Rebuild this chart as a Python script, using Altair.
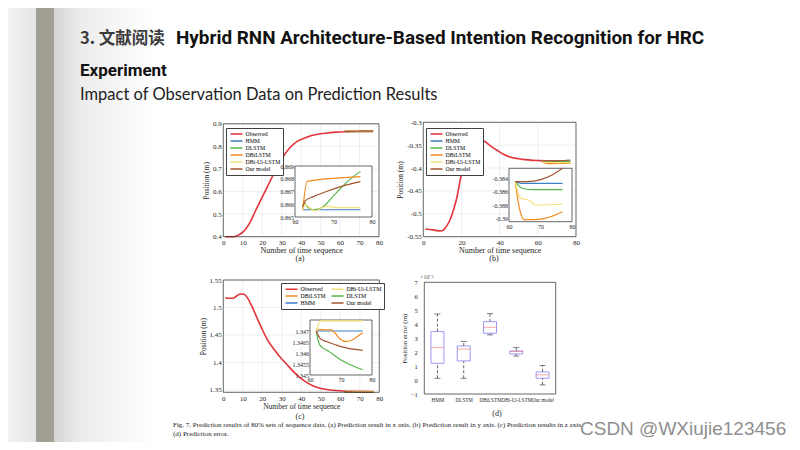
import json
import altair as alt
import pandas as pd

# ---------------- data ----------------
SERIES = ["Observed", "HMM", "DLSTM", "DBiLSTM", "DBi-Ui-LSTM", "Our model"]
COLORS = ["#e2343b", "#3a80c6", "#55b548", "#f28b1e", "#f5df7a", "#a5532f"]
C_ORDER = ["Observed", "DBiLSTM", "HMM", "DBi-Ui-LSTM", "DLSTM", "Our model"]

# (a) x axis
A_OBS_X = [1, 4, 6, 8, 10, 12, 14, 16, 18, 20, 22, 24, 26, 28, 30, 32, 34, 36, 38, 40, 43, 46, 50, 54, 58, 62, 66, 70, 74, 77]
A_OBS_Y = [0.400, 0.400, 0.401, 0.408, 0.420, 0.440, 0.468, 0.505, 0.540, 0.575, 0.610, 0.645, 0.680, 0.713, 0.743,
           0.770, 0.792, 0.809, 0.822, 0.831, 0.841, 0.849, 0.856, 0.860, 0.863, 0.8650, 0.8656, 0.8660, 0.8663, 0.8665]
A_PRED = {
    "HMM": ([62, 77], [0.86557, 0.86557]),
    "DLSTM": ([62, 62.5, 63.2, 64.8, 67, 70.2, 73.4, 77], [0.8656, 0.8661, 0.8658, 0.86557, 0.86574, 0.86673, 0.86772, 0.86858]),
    "DBiLSTM": ([62, 63.2, 77], [0.86557, 0.86779, 0.86816]),
    "DBi-Ui-LSTM": ([62, 62.7, 63.7, 65.3, 67, 68.6, 70.7, 77], [0.86557, 0.86599, 0.86574, 0.86549, 0.86574, 0.86584, 0.86574, 0.86574]),
    "Our model": ([62, 62.7, 64.8, 68, 72.3, 77], [0.8658, 0.86628, 0.8666, 0.86698, 0.86742, 0.86777]),
}

# (b) y axis
B_OBS_X = [1, 5, 9, 10.5, 12, 14, 16, 17.5, 19, 21, 22.7, 24.5, 27, 29.7, 32.3, 35, 38.4, 42, 45.4, 52, 61, 70, 77]
B_OBS_Y = [-0.5332, -0.5350, -0.5376, -0.5354, -0.5280, -0.5136, -0.4890, -0.4660, -0.4340, -0.3897, -0.3570, -0.3420,
           -0.3370, -0.3370, -0.3420, -0.3510, -0.3605, -0.3700, -0.3758, -0.3810, -0.3838, -0.3850, -0.3858]
B_PRED = {
    "HMM": ([62, 64, 77], [-0.3845, -0.38475, -0.38475]),
    "DLSTM": ([62, 63.5, 65.1, 67.5, 77], [-0.3845, -0.3853, -0.3856, -0.3857, -0.3857]),
    "DBiLSTM": ([62, 63.1, 63.9, 64.8, 68.1, 71.4, 77], [-0.3845, -0.3880, -0.3895, -0.3902, -0.3902, -0.3900, -0.3890]),
    "DBi-Ui-LSTM": ([62, 63.1, 63.7, 65.3, 67, 68.1, 69.8, 77], [-0.3845, -0.3865, -0.3870, -0.38715, -0.3875, -0.3880, -0.3880, -0.38785]),
    "Our model": ([62, 65.9, 70.3, 73.7, 77], [-0.3845, -0.3845, -0.38415, -0.3835, -0.38235]),
}

# (c) z axis
C_OBS_X = [1, 3, 5, 7, 9, 10.6, 12.3, 14.5, 17, 19.7, 22.2, 25.6, 29, 32.5, 36, 39.3, 42.7, 46.2, 49.6, 54.7, 61.5, 70, 77]
C_OBS_Y = [1.5179, 1.5167, 1.5167, 1.5215, 1.5245, 1.5240, 1.5180, 1.5033, 1.4833, 1.4621, 1.4440, 1.4258, 1.4106,
           1.3967, 1.3833, 1.3724, 1.3639, 1.3573, 1.3530, 1.3500, 1.3482, 1.3475, 1.3472]
C_PRED = {
    "HMM": ([62, 77], [1.3470, 1.3470]),
    "DLSTM": ([62, 62.7, 63.2, 66.4, 69.6, 72.8, 77], [1.3470, 1.34652, 1.34636, 1.34604, 1.34572, 1.34548, 1.34524]),
    "DBiLSTM": ([62, 63, 64.8, 66.9, 68, 69.6, 71.7, 73.8, 75.4, 77],
                [1.3470, 1.34708, 1.34705, 1.34705, 1.34692, 1.34665, 1.34652, 1.3466, 1.34676, 1.34692]),
    "DBi-Ui-LSTM": ([62, 63.4, 77], [1.3470, 1.34746, 1.34746]),
    "Our model": ([62, 63.2, 65.3, 68.5, 71.7, 77], [1.3470, 1.34668, 1.34652, 1.34636, 1.34623, 1.34612]),
}

# (d) prediction error (x 10^-3)
MODELS = ["HMM", "DLSTM", "DBiLSTM", "DBi-Ui-LSTM", "Our model"]
D_LOW = [0.13, 0.13, 3.23, 1.72, -0.35]
D_Q1 = [1.20, 1.37, 3.35, 1.87, 0.13]
D_MED = [2.32, 2.22, 3.78, 2.03, 0.37]
D_Q3 = [3.47, 2.44, 4.18, 2.08, 0.58]
D_HIGH = [4.73, 2.75, 4.75, 2.32, 1.03]

TITLE_CN = "3. 文献阅读"
TITLE_EN = "Hybrid RNN Architecture-Based Intention Recognition for HRC"
HEAD2 = "Experiment"
HEAD3 = "Impact of Observation Data on Prediction Results"
CAP1 = "Fig. 7.    Prediction results of 80% sets of sequence data. (a) Prediction result in x axis. (b) Prediction result in y axis. (c) Prediction results in z axis."
CAP2 = "(d) Prediction error."
WATERMARK = "CSDN @WXiujie123456"

# ---------------- layout / style ----------------
W, H = 784, 434
SERIF = "Liberation Serif, Times New Roman, serif"
HEADFONT = "Roboto, Arial, sans-serif"
CJK = "Noto Sans CJK SC, sans-serif"
INK = "#262626"
GRID = "#e4e4e4"
HYPHEN = "replace(datum.label, '\u2212', '-')"
LEG_SYMBOL = "M-0.6,0L4.2,0"


def make_axis(orient, pos, values, fmt, fs, title=None, tsize=8, tpad=1, z=0, lpad=2, label_expr=None):
    kw = dict(orient=orient, values=values, grid=False, domain=False, ticks=False,
              labelFont=SERIF, labelFontSize=fs, labelColor=INK, labelPadding=lpad,
              labelFlush=False, labelOverlap=False, zindex=z,
              titleFont=SERIF, titleFontSize=tsize, titleFontWeight="normal",
              titleColor=INK, titlePadding=tpad, title=title)
    kw["offset"] = (pos - H) if orient == "bottom" else -pos
    if fmt:
        kw["format"] = fmt
    if label_expr:
        kw["labelExpr"] = label_expr
    return alt.Axis(**kw)


def pred_df(preds):
    rows = []
    for name, (xs, ys) in preds.items():
        for a, b in zip(xs, ys):
            rows.append({"x": a, "y": b, "series": name})
    return pd.DataFrame(rows)


def legend(x, y, cols=1):
    kw = dict(orient="none", legendX=x, legendY=y, title=None, symbolType=LEG_SYMBOL, symbolSize=25,
              symbolStrokeWidth=1.5, labelFont=SERIF, labelFontSize=5.8, labelColor="black", labelOffset=10,
              rowPadding=0, padding=2.5, strokeColor="#404040", fillColor="white", columnPadding=2)
    if cols > 1:
        kw["columns"] = cols
    return alt.Legend(**kw)


def main_panel(ox, oy, preds, xdom, ydom, xr, yr, xt, yt, yfmt, leg, cdom, crange, xtsize=8):
    xs = alt.Scale(domain=xdom, range=xr, nice=False, zero=False, clamp=True)
    ys = alt.Scale(domain=ydom, range=yr, nice=False, zero=False, clamp=True)
    xa = make_axis("bottom", yr[0], xt, "d", 7, "Number of time sequence", xtsize, 1)
    ya = make_axis("left", xr[0], yt, yfmt, 7, "Position (m)", 7.5, 2, label_expr=HYPHEN)
    X = lambda f: alt.X(f, type="quantitative", scale=xs, axis=xa)
    Y = lambda f: alt.Y(f, type="quantitative", scale=ys, axis=ya)
    col = alt.Color("series:N", scale=alt.Scale(domain=cdom, range=crange), legend=leg)
    gx = alt.Chart(pd.DataFrame({"v": xt[1:-1], "lo": ydom[0], "hi": ydom[1]})).mark_rule(
        color=GRID, strokeWidth=0.6).encode(x=X("v"), y=Y("lo"), y2=alt.Y2("hi"))
    gy = alt.Chart(pd.DataFrame({"v": yt, "lo": xdom[0], "hi": xdom[1]})).mark_rule(
        color=GRID, strokeWidth=0.6).encode(y=Y("v"), x=X("lo"), x2=alt.X2("hi"))
    ob = alt.Chart(pd.DataFrame({"x": ox, "y": oy, "series": "Observed"})).mark_line(
        strokeWidth=1.6, interpolate="monotone").encode(x=X("x"), y=Y("y"), color=col)
    pr = alt.Chart(pred_df(preds)).mark_line(strokeWidth=1.2, interpolate="monotone").encode(
        x=X("x"), y=Y("y"), color=col)
    fr = alt.Chart(pd.DataFrame({"x0": [xdom[0]], "x1": [xdom[1]], "y0": [ydom[0]], "y1": [ydom[1]]})).mark_rect(
        fillOpacity=0, stroke=INK, strokeWidth=0.7).encode(x=X("x0"), x2=alt.X2("x1"), y=Y("y0"), y2=alt.Y2("y1"))
    return alt.layer(gx, gy, ob, pr, fr)


def inset_panel(preds, xdom, ydom, xr, yr, xt, yt, yfmt):
    xs = alt.Scale(domain=xdom, range=xr, nice=False, zero=False, clamp=True)
    ys = alt.Scale(domain=ydom, range=yr, nice=False, zero=False, clamp=True)
    xa = make_axis("bottom", yr[0], xt, "d", 6, None, z=1, lpad=1.5)
    ya = make_axis("left", xr[0], yt, yfmt, 6, None, z=1, lpad=1.5, label_expr=HYPHEN)
    X = lambda f: alt.X(f, type="quantitative", scale=xs, axis=xa)
    Y = lambda f: alt.Y(f, type="quantitative", scale=ys, axis=ya)
    col = alt.Color("series:N", scale=alt.Scale(domain=SERIES, range=COLORS), legend=None)
    bg = alt.Chart(pd.DataFrame({"x0": [xdom[0]], "x1": [xdom[1]], "y0": [ydom[0]], "y1": [ydom[1]]})).mark_rect(
        fill="white", stroke=INK, strokeWidth=0.7).encode(x=X("x0"), x2=alt.X2("x1"), y=Y("y0"), y2=alt.Y2("y1"))
    pr = alt.Chart(pred_df(preds)).mark_line(strokeWidth=1.2, interpolate="monotone").encode(
        x=X("x"), y=Y("y"), color=col)
    return alt.layer(bg, pr)


def box_panel():
    xr, yr = [411.3, 552.7], [386, 274.3]
    xdom, ydom = [0.5, 5.5], [-1, 7]
    xs = alt.Scale(domain=xdom, range=xr, nice=False, zero=False)
    ys = alt.Scale(domain=ydom, range=yr, nice=False, zero=False)
    lab = json.dumps(MODELS) + "[datum.value - 1]"
    xa = make_axis("bottom", yr[0], [1, 2, 3, 4, 5], None, 5.1, None, lpad=3, label_expr=lab)
    ya = make_axis("left", xr[0], list(range(-1, 8)), "d", 6.5, "Position error (m)", 7, 3)
    X = lambda f: alt.X(f, type="quantitative", scale=xs, axis=xa)
    Y = lambda f: alt.Y(f, type="quantitative", scale=ys, axis=ya)
    df = pd.DataFrame({"i": [1, 2, 3, 4, 5], "low": D_LOW, "q1": D_Q1, "med": D_MED, "q3": D_Q3, "high": D_HIGH})
    base = alt.Chart(df)
    fr = alt.Chart(pd.DataFrame({"x0": [xdom[0]], "x1": [xdom[1]], "y0": [ydom[0]], "y1": [ydom[1]]})).mark_rect(
        fillOpacity=0, stroke=INK, strokeWidth=0.7).encode(x=X("x0"), x2=alt.X2("x1"), y=Y("y0"), y2=alt.Y2("y1"))
    w1 = base.mark_rule(color="black", strokeWidth=0.6, strokeDash=[3, 2]).encode(x=X("i"), y=Y("low"), y2=alt.Y2("q1"))
    w2 = base.mark_rule(color="black", strokeWidth=0.6, strokeDash=[3, 2]).encode(x=X("i"), y=Y("q3"), y2=alt.Y2("high"))
    c1 = base.mark_tick(orient="horizontal", size=6, thickness=0.7, color="black").encode(x=X("i"), y=Y("low"))
    c2 = base.mark_tick(orient="horizontal", size=6, thickness=0.7, color="black").encode(x=X("i"), y=Y("high"))
    bx = base.mark_bar(size=13, fill="white", stroke="#8080f2", strokeWidth=0.8).encode(
        x=X("i"), y=Y("q1"), y2=alt.Y2("q3"))
    md = base.mark_tick(orient="horizontal", size=13, thickness=0.8, color="#f06666").encode(x=X("i"), y=Y("med"))
    return alt.layer(fr, w1, w2, c1, c2, bx, md)


def text(txt, x, y, size, font, weight="normal", color=INK, align="left", baseline="alphabetic"):
    return alt.Chart(pd.DataFrame({"t": [txt]})).mark_text(
        align=align, baseline=baseline, font=font, fontSize=size, fontWeight=weight, color=color
    ).encode(x=alt.value(x), y=alt.value(y), text="t:N")


def grad_rect(x0, x1, stops):
    g = alt.LinearGradient(gradient="linear", x1=0, x2=1, y1=0, y2=0,
                           stops=[alt.GradientStop(offset=o, color=c) for o, c in stops])
    return alt.Chart(pd.DataFrame({"a": [0]})).mark_rect(color=g).encode(
        x=alt.value(x0), x2=alt.value(x1), y=alt.value(0), y2=alt.value(H))


layers = [
    grad_rect(0, 28, [(0, "#f3f3f3"), (1, "#e4e4e4")]),
    grad_rect(46, 150, [(0, "#d4d4d4"), (0.25, "#ececec"), (1, "#ffffff")]),
    alt.Chart(pd.DataFrame({"a": [0]})).mark_rect(color="#a19e93").encode(
        x=alt.value(28), x2=alt.value(46), y=alt.value(0), y2=alt.value(H)),
    text(TITLE_CN, 72, 36, 16.5, CJK, "bold", "#3c3c3c"),
    text(TITLE_EN, 168, 36, 18.9, HEADFONT, "bold", "#111111"),
    text(HEAD2, 72, 68, 17, HEADFONT, "bold", "#111111"),
    text(HEAD3, 72, 92, 16.5, "Lato, Open Sans, sans-serif", "normal", "#222222"),
    # panel (a)
    main_panel(A_OBS_X, A_OBS_Y, A_PRED, [0, 80], [0.4, 0.9], [215.3, 371], [228.7, 115.8],
               [0, 10, 20, 30, 40, 50, 60, 70, 80], [0.4, 0.5, 0.6, 0.7, 0.8, 0.9], ".1f",
               legend(218, 120), SERIES, COLORS),
    inset_panel(A_PRED, [60, 80], [0.865, 0.869], [287, 364], [209, 158],
                [60, 70, 80], [0.865, 0.866, 0.867, 0.868, 0.869], ".3f"),
    # panel (b)
    main_panel(B_OBS_X, B_OBS_Y, B_PRED, [0, 80], [-0.55, -0.3], [415.3, 568], [228.7, 114.3],
               [0, 20, 40, 60, 80], [-0.55, -0.5, -0.45, -0.4, -0.35, -0.3], "~g",
               legend(418, 120), SERIES, COLORS),
    inset_panel(B_PRED, [60, 80], [-0.3905, -0.3825], [501, 564], [213.7, 160.3],
                [60, 70, 80], [-0.39, -0.388, -0.386, -0.384], "~g"),
    # panel (c)
    main_panel(C_OBS_X, C_OBS_Y, C_PRED, [0, 80], [1.3458, 1.55], [215.3, 371.3], [384.3, 272],
               [0, 10, 20, 30, 40, 50, 60, 70, 80], [1.35, 1.4, 1.45, 1.5, 1.55], "~g",
               legend(273, 275, 2), C_ORDER, [COLORS[SERIES.index(s)] for s in C_ORDER], xtsize=7.5),
    inset_panel(C_PRED, [60, 80], [1.345, 1.3475], [302, 364], [367, 312],
                [60, 70, 80], [1.345, 1.3455, 1.346, 1.3465, 1.347], "~g"),
    # panel (d)
    box_panel(),
    text("\u00d710\u207b\u00b3", 412, 271, 6, SERIF, color="#555555"),
    text("(a)", 292, 251, 8, SERIF, align="center", baseline="middle"),
    text("(b)", 486, 251, 8, SERIF, align="center", baseline="middle"),
    text("(c)", 292, 409, 8, SERIF, align="center", baseline="middle"),
    text("(d)", 489, 406, 8, SERIF, align="center", baseline="middle"),
    text(CAP1, 165, 419, 7, SERIF, color="#222222"),
    text(CAP2, 165, 427.5, 7, SERIF, color="#222222"),
    text(WATERMARK, 572, 427, 19, "Liberation Sans, Arial, sans-serif", color="#8f8f8f"),
]

chart = alt.layer(*layers).resolve_scale(
    x="independent", y="independent", color="independent"
).properties(
    width=W, height=H, autosize="none", padding=0, background="white"
).configure_view(strokeWidth=0)

chart.save("out.html", embed_options={"renderer": "svg", "actions": False})
